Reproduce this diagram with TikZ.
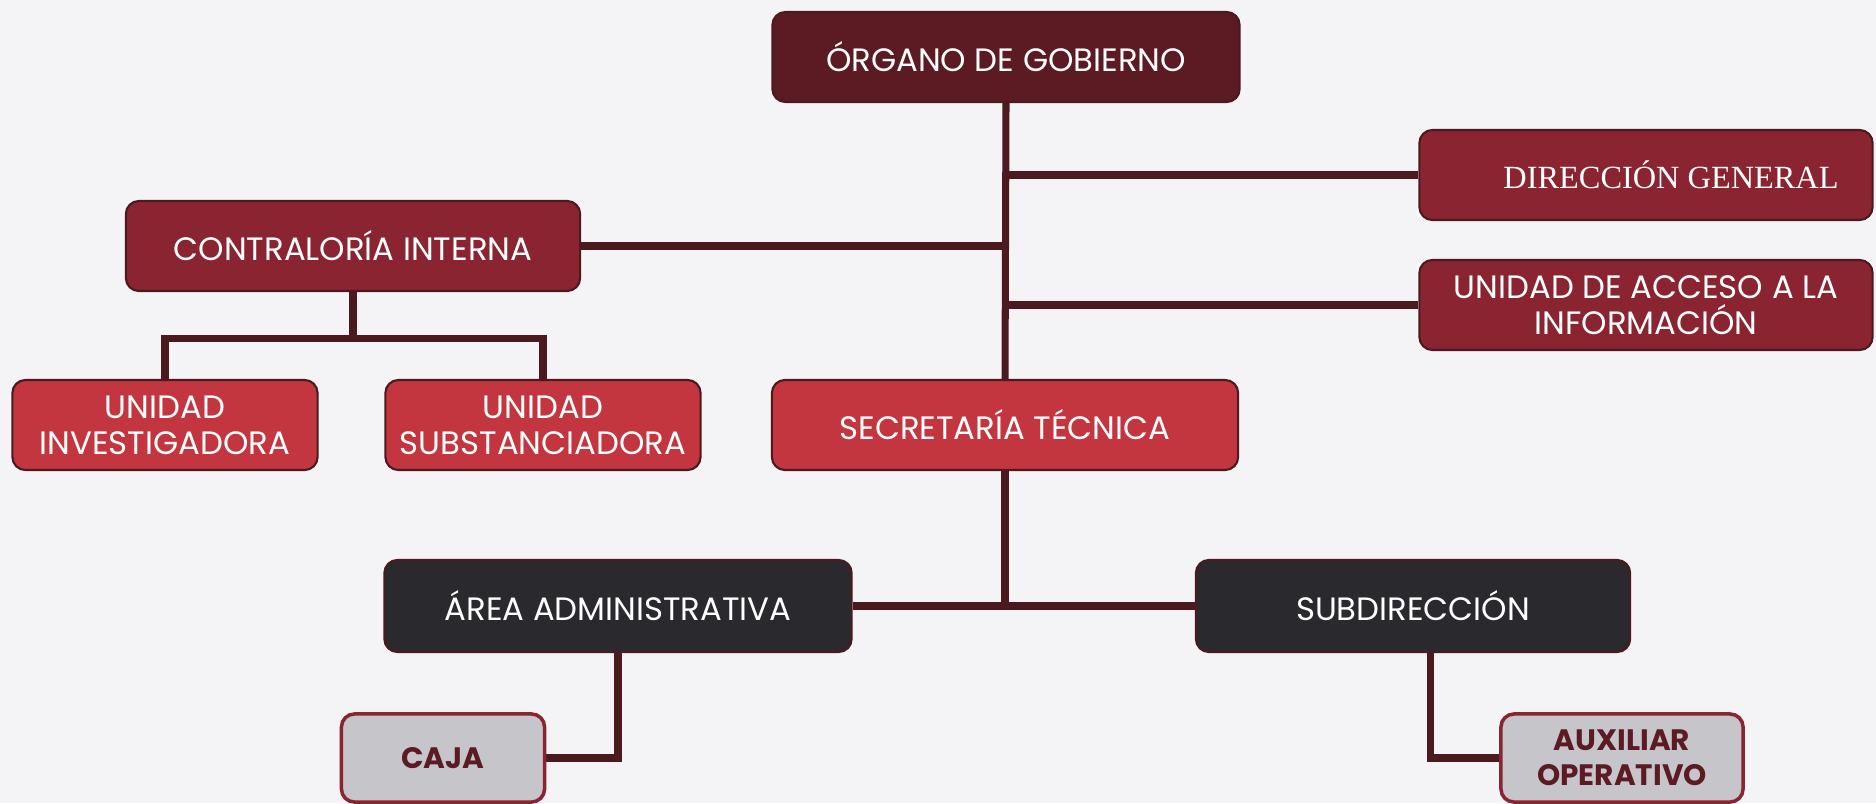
\documentclass[tikz,border=0pt]{standalone}
\usepackage{fontspec}
\setmainfont{Poppins}
\newfontfamily\dirfont{Liberation Serif}
\usetikzlibrary{positioning,backgrounds}

\definecolor{vino}{HTML}{5C1A22}
\definecolor{granate}{HTML}{8A2430}
\definecolor{rojo}{HTML}{C4363F}
\definecolor{carbon}{HTML}{2A292D}
\definecolor{perla}{HTML}{C6C5CA}
\definecolor{linea}{HTML}{4A1A1F}
\definecolor{fondo}{HTML}{F4F4F7}

\tikzset{
  puesto/.style={rounded corners=0.13cm, draw=linea, line width=0.6pt, text=white,
    align=center, inner sep=0pt, minimum height=0.9cm,
    font=\fontsize{9.2}{10.2}\selectfont},
  pvino/.style={puesto, fill=vino},
  pgranate/.style={puesto, fill=granate},
  projo/.style={puesto, fill=rojo},
  pcarbon/.style={puesto, fill=carbon},
  pperla/.style={puesto, fill=perla, text=vino, line width=1pt, draw=granate,
    font=\fontsize{8.4}{10}\selectfont\bfseries},
  enlace/.style={draw=linea, line width=2pt}
}

\begin{document}
\begin{tikzpicture}[x=0.01cm, y=-0.01cm]
  \useasboundingbox (0,0) rectangle (1876,803);

  % nivel superior
  \node[pvino, minimum width=4.67cm] (org) at (1006,57) {ÓRGANO DE GOBIERNO};
  \node[pgranate, minimum width=4.53cm] (dir) at (1646,175) {\dirfont\fontsize{9.2}{11}\selectfont\hspace{0.5cm}DIRECCIÓN GENERAL};
  \node[pgranate, minimum width=4.53cm] (acc) at (1646,305) {UNIDAD DE ACCESO A LA\\INFORMACIÓN};
  \node[pgranate, minimum width=4.54cm] (cont) at (353,246) {CONTRALORÍA INTERNA};

  % segundo nivel
  \node[projo, minimum width=3.05cm] (inv) at (165,425) {UNIDAD\\INVESTIGADORA};
  \node[projo, minimum width=3.15cm] (subs) at (543,425) {UNIDAD\\SUBSTANCIADORA};
  \node[projo, minimum width=4.66cm] (sec) at (1005,425) {SECRETARÍA TÉCNICA};

  % areas
  \node[pcarbon, minimum width=4.67cm, minimum height=0.92cm] (adm) at (618,606) {ÁREA ADMINISTRATIVA};
  \node[pcarbon, minimum width=4.34cm, minimum height=0.92cm] (subd) at (1413,606) {SUBDIRECCIÓN};

  \node[pperla, minimum width=2.03cm, minimum height=0.88cm] (caja) at (443,758) {CAJA};
  \node[pperla, minimum width=2.42cm, minimum height=0.88cm] (aux) at (1622,758) {AUXILIAR\\OPERATIVO};

  \begin{scope}[on background layer]
    \fill[fondo] (0,0) rectangle (1876,803);
    \draw[enlace] (org.south) -- (sec.north);
    \draw[enlace] (dir.west) -- (dir.west -| org.south);
    \draw[enlace] (acc.west) -- (acc.west -| org.south);
    \draw[enlace] (cont.east) -- (cont.east -| org.south);
    \draw[enlace] (cont.south) -- ++(0,46) coordinate (cbar);
    \draw[enlace] (inv.north) |- (cbar) -| (subs.north);
    \draw[enlace] (sec.south) -- (sec.south |- adm.east);
    \draw[enlace] (adm.east) -- (subd.west);
    \draw[enlace] (adm.south) |- (caja.east);
    \draw[enlace] ([xshift=0.17cm]subd.south) |- (aux.west);
  \end{scope}
\end{tikzpicture}
\end{document}
